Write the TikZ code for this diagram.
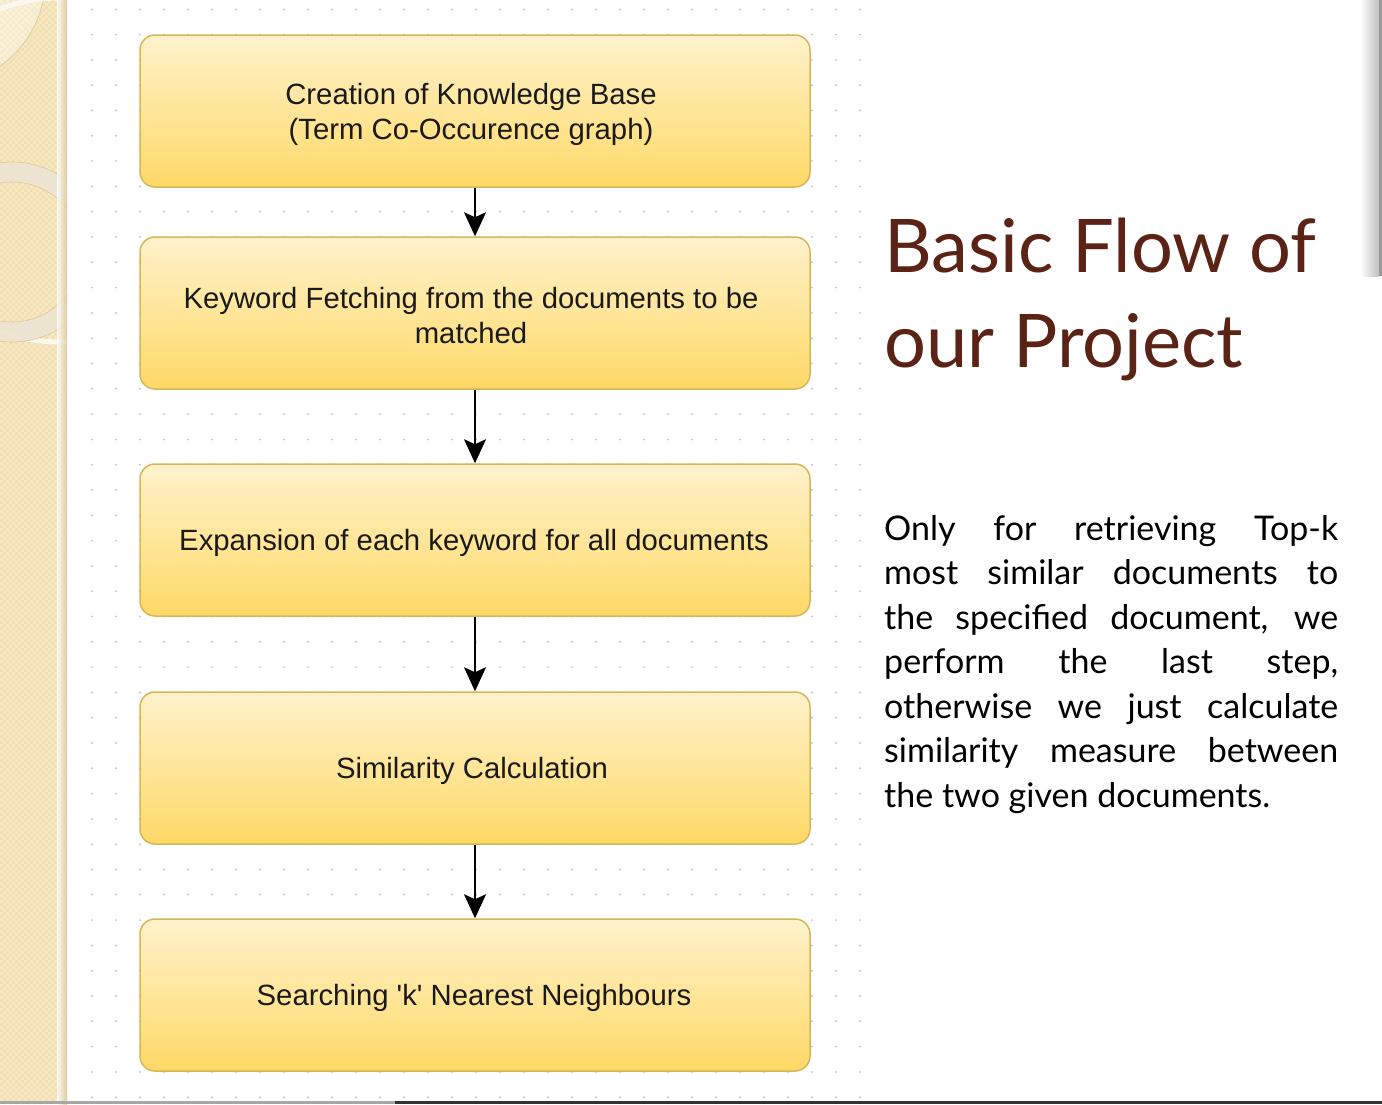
\documentclass[tikz,border=0pt]{standalone}
\usepackage{fontspec}
\setmainfont{Liberation Sans}
\newfontfamily\boxfont{Liberation Sans}
\newfontfamily\slidefont{Lato}
\usetikzlibrary{arrows.meta}

\definecolor{stripbase}{HTML}{F2DEAE}
\definecolor{stripcell}{HTML}{F7E8C4}
\definecolor{stripedge}{HTML}{D9C596}
\definecolor{ringcol}{HTML}{ECE5D3}
\definecolor{gridgray}{HTML}{C4C4C4}
\definecolor{boxtop}{HTML}{FFF2CC}
\definecolor{boxbot}{HTML}{FFD966}
\definecolor{boxline}{HTML}{D6B656}
\definecolor{titlebrown}{HTML}{5A2315}
\definecolor{boxtext}{HTML}{1A1A1A}

\tikzset{
  flowbox/.style={draw=boxline, line width=1.5pt, rounded corners=15pt,
    top color=boxtop, bottom color=boxbot,
    minimum width=670pt, minimum height=152pt, inner sep=0pt},
  boxlabel/.style={align=center, text=boxtext, inner sep=0pt,
    font=\boxfont\fontsize{29.3}{35}\selectfont},
  flowarrow/.style={draw=black, line width=1.8pt,
    -{Stealth[length=24pt, width=22pt, inset=5pt]}},
  titletext/.style={anchor=base west, inner sep=0pt, text=titlebrown,
    font=\slidefont\fontsize{74}{90}\selectfont},
  bodytext/.style={anchor=north west, inner sep=0pt, align=left,
    font=\slidefont\fontsize{34}{44.5}\selectfont}
}

\begin{document}
\begin{tikzpicture}[x=1pt, y=-1pt]
\useasboundingbox (0,0) rectangle (1382,1104);
\fill[white] (0,0) rectangle (1382,1104);

% decorative left strip
\fill[stripbase] (0,0) rectangle (67,1104);
\begin{scope}
  \clip (0,0) rectangle (67,1104);
  \fill[stripcell] \foreach \i in {0,...,11} {\foreach \j in {0,...,183}
    {({\i*6},{\j*6}) rectangle ++(3,3) ({\i*6+3},{\j*6+3}) rectangle ++(3,3)}};
  \fill[white, opacity=0.35] (-60,-20) circle[radius=105];
  \draw[stripedge, line width=0.6pt] (-60,-20) circle[radius=105];
  \draw[white!80!stripbase, line width=5pt] (60,170) circle[radius=172];
  \fill[ringcol, opacity=0.9, even odd rule] (12,252) circle[radius=90] (12,252) circle[radius=70];
  \draw[stripedge, line width=0.6pt] (12,252) circle[radius=90] (12,252) circle[radius=70];
  \shade[left color=stripbase!0, right color=stripedge, opacity=0.8] (57,0) rectangle (67,1104);
\end{scope}

% dotted grid of the drawing canvas
\fill[gridgray] \foreach \i in {0,...,32} {\foreach \j in {0,...,43}
  {({92+\i*24},{9.3+\j*25.3}) circle[radius=1.1]}};

% flow steps
\node[flowbox] (kb)  at (475,111) {};
\node[flowbox] (kw)  at (475,313) {};
\node[flowbox] (exp) at (475,540) {};
\node[flowbox] (sim) at (475,768) {};
\node[flowbox] (knn) at (475,995) {};

\node[boxlabel] (kbt)  at ([shift={(-4,3)}]kb.center)  {Creation of Knowledge Base\\ (Term Co-Occurence graph)};
\node[boxlabel] (kwt)  at ([shift={(-4,3)}]kw.center)  {Keyword Fetching from the documents to be\\ matched};
\node[boxlabel] (expt) at ([shift={(-1,3)}]exp.center) {Expansion of each keyword for all documents};
\node[boxlabel] (simt) at ([shift={(-3,3)}]sim.center) {Similarity Calculation};
\node[boxlabel] (knnt) at ([shift={(-1,3)}]knn.center) {Searching 'k' Nearest Neighbours};

\draw[flowarrow] (kb.south)  -- (kw.north);
\draw[flowarrow] (kw.south)  -- (exp.north);
\draw[flowarrow] (exp.south) -- (sim.north);
\draw[flowarrow] (sim.south) -- (knn.north);

% title
\node[titletext] (t1) at (884,272) {Basic Flow of};
\node[titletext] (t2) at (884,367) {our Project};

% explanatory paragraph
\node[bodytext] (para) at (884,515) {%
  \makebox[454pt][s]{Only for retrieving Top-k}\\
  \makebox[454pt][s]{most similar documents to}\\
  \makebox[454pt][s]{the specified document, we}\\
  \makebox[454pt][s]{perform the last step,}\\
  \makebox[454pt][s]{otherwise we just calculate}\\
  \makebox[454pt][s]{similarity measure between}\\
  the two given documents.};

% window edges
\shade[left color=white, right color=black!25] (1360,0) rectangle (1379,276);
\fill[black!40] (1379,0) rectangle (1382,276);
\fill[black!35] (0,1101) rectangle (395,1104);
\fill[black!80] (395,1101) rectangle (1382,1104);
\end{tikzpicture}
\end{document}
